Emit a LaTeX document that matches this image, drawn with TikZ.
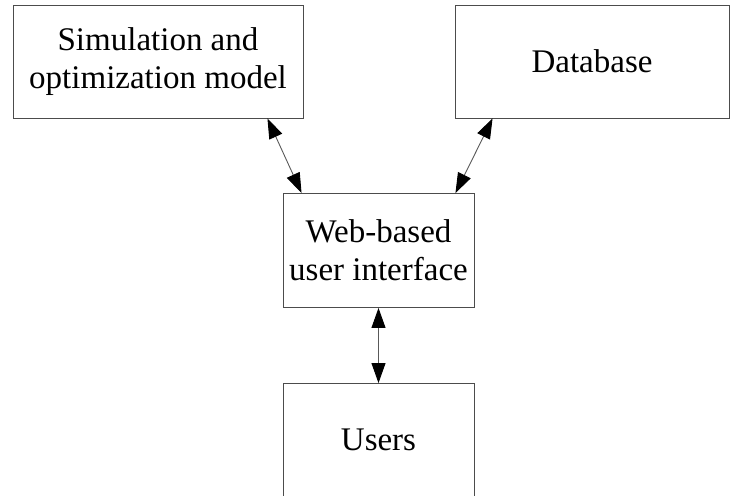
\documentclass[tikz,border=0pt]{standalone}
\usepackage{fontspec}
\setmainfont{Liberation Serif}
\usetikzlibrary{arrows.meta,calc}
\tikzset{bigtip/.tip={Triangle[length=20pt,width=14pt,color=black]}}
\begin{document}
\begin{tikzpicture}[x=1pt,y=-1pt,
  box/.style={draw=black!70,line width=0.9pt,rectangle,inner sep=0pt,align=center,
    font=\fontsize{33}{38}\selectfont},
  conn/.style={draw=black!65,line width=0.9pt,{bigtip}-{bigtip}}]
\useasboundingbox (0,0) rectangle (730,495);
\clip (0,0) rectangle (730,495);
\node[box,minimum width=290pt,minimum height=113pt] (sim) at (158,61.5) {Simulation and\\optimization model};
\node[box,minimum width=274pt,minimum height=113pt] (db) at (592,61.5) {Database};
\node[box,minimum width=191pt,minimum height=114pt] (web) at (378.5,250.5) {Web-based\\user interface};
\node[box,minimum width=191pt,minimum height=113pt] (users) at (378.5,440) {Users};
\draw[conn] ($(sim.south east)+(-36,0)$) -- ($(web.north west)+(19,0)$);
\draw[conn] ($(db.south west)+(38,0)$) -- ($(web.north east)+(-19,0)$);
\draw[conn] (web.south) -- (users.north);
\end{tikzpicture}
\end{document}
